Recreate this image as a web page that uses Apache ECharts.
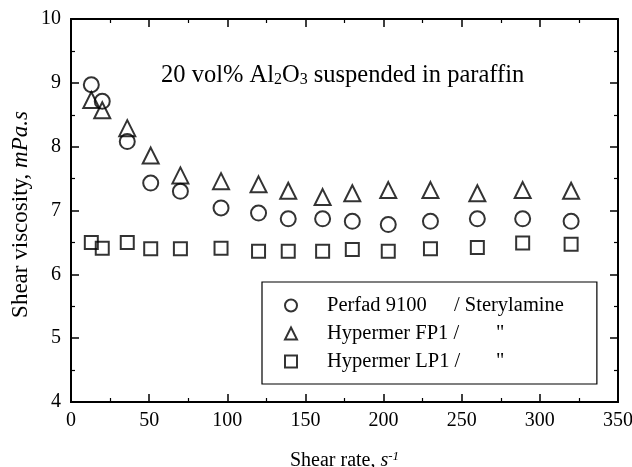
<!DOCTYPE html>
<html><head><meta charset="utf-8">
<script src="https://cdn.jsdelivr.net/npm/echarts@6/dist/echarts.min.js"></script>
<style>html,body{margin:0;padding:0;background:#fff}#c{width:632px;height:467px}</style>
</head><body><div id="c"></div>
<script>
const shearRate = [13, 20, 36, 51, 70, 96, 120, 139, 161, 180, 203, 230, 260, 289, 320];
const perfad = [8.97, 8.71, 8.08, 7.43, 7.30, 7.04, 6.96, 6.87, 6.87, 6.83, 6.78, 6.83, 6.87, 6.87, 6.83];
const hypermerFP1 = [8.73, 8.57, 8.29, 7.86, 7.55, 7.46, 7.41, 7.31, 7.21, 7.27, 7.32, 7.32, 7.27, 7.32, 7.31];
const hypermerLP1 = [6.50, 6.41, 6.50, 6.40, 6.40, 6.41, 6.36, 6.36, 6.36, 6.39, 6.36, 6.40, 6.42, 6.49, 6.47];
const seriesNames = ['Perfad 9100', 'Hypermer FP1', 'Hypermer LP1'];
const xTicks = [0, 350, 50];
const yTicks = [4, 10, 1];

const FONT = '"Liberation Serif", "Times New Roman", serif';
const chart = echarts.init(document.getElementById('c'));
const pair = (xs, ys) => xs.map((x, i) => [x, ys[i]]);
const mk = (name, data, symbol, size) => ({
  name, type: 'scatter', data, symbol, symbolSize: size,
  itemStyle: { color: 'rgba(0,0,0,0)', borderColor: '#000', borderWidth: 2 },
  emphasis: { disabled: true }, xAxisIndex: 0, yAxisIndex: 0
});
const LF = 20.5;
const legendRich = {
  a: { fontFamily: FONT, fontSize: LF, color: '#000', width: 127, lineHeight: 20 },
  d: { fontFamily: FONT, fontSize: LF, color: '#000', width: 169, lineHeight: 20 },
  c: { fontFamily: FONT, fontSize: LF, color: '#000', lineHeight: 20 }
};
const baseAxis = (min, max, interval, ticks) => ({
  type: 'value', min, max, interval,
  axisLine: { show: true, onZero: false, lineStyle: { color: '#000', width: 2 } },
  axisTick: { show: ticks, inside: true, length: 8, lineStyle: { color: '#000', width: 1.5 } },
  minorTick: { show: ticks, splitNumber: 2, length: 4, lineStyle: { color: '#000', width: 1.2 } },
  splitLine: { show: false },
  axisLabel: { show: false }
});
chart.setOption({
  animation: false,
  backgroundColor: '#fff',
  title: {
    text: '20 vol% Al{sub|2}O{sub|3} suspended in paraffin',
    left: 156, top: 58,
    textStyle: {
      fontFamily: FONT, fontSize: 24.5, fontWeight: 'normal', color: '#000',
      rich: { sub: { fontFamily: FONT, fontSize: 16, color: '#000', verticalAlign: 'bottom', padding: [9, 0, 0, 0] } }
    }
  },
  legend: {
    orient: 'vertical', left: 262, top: 282,
    padding: [13, 33, 12, 22], itemGap: 7,
    borderColor: '#000', borderWidth: 1.2,
    itemWidth: 12, itemHeight: 12,
    data: seriesNames,
    formatter: n => n === seriesNames[0]
      ? '{a|' + n + '}{c|/ Sterylamine}'
      : '{d|' + n + ' /}{c|"}',
    textStyle: { fontFamily: FONT, fontSize: LF, color: '#000', padding: [0, 0, 0, 25], rich: legendRich }
  },
  grid: { left: 71, right: 14, top: 19, bottom: 65, containLabel: false, outerBoundsMode: 'none' },
  xAxis: [
    Object.assign(baseAxis(xTicks[0], xTicks[1], xTicks[2], false), {
      position: 'bottom',
      axisLabel: { show: true, color: '#000', fontFamily: FONT, fontSize: 20, margin: 9 },
      name: 'Shear rate, {i|s}{sup|-1}', nameLocation: 'middle', nameGap: 48, nameMoveOverlap: false,
      nameTextStyle: { fontFamily: FONT, fontSize: 20, color: '#000',
        rich: { i: { fontFamily: FONT, fontSize: 20, fontStyle: 'italic', color: '#000' },
                sup: { fontFamily: FONT, fontSize: 13, fontStyle: 'italic', color: '#000', verticalAlign: 'top', padding: [0, 0, 8, 0] } } }
    }),
    Object.assign(baseAxis(xTicks[0], xTicks[1], xTicks[2], true), { position: 'top' }),
    Object.assign(baseAxis(xTicks[0], xTicks[1], xTicks[2], true), { position: 'bottom' })
  ],
  yAxis: [
    Object.assign(baseAxis(yTicks[0], yTicks[1], yTicks[2], false), {
      position: 'left',
      axisLabel: { show: true, color: '#000', fontFamily: FONT, fontSize: 20, margin: 10 },
      name: 'Shear viscosity, {i|mPa.s}', nameLocation: 'middle', nameGap: 39, nameMoveOverlap: false,
      nameTextStyle: { fontFamily: FONT, fontSize: 23, color: '#000', padding: [0, 8, 0, 0],
        rich: { i: { fontFamily: FONT, fontSize: 23, fontStyle: 'italic', color: '#000' } } }
    }),
    Object.assign(baseAxis(yTicks[0], yTicks[1], yTicks[2], true), { position: 'right' }),
    Object.assign(baseAxis(yTicks[0], yTicks[1], yTicks[2], true), { position: 'left' })
  ],
  series: [
    mk(seriesNames[0], pair(shearRate, perfad), 'circle', 15),
    mk(seriesNames[1], pair(shearRate, hypermerFP1), 'triangle', 16),
    mk(seriesNames[2], pair(shearRate, hypermerLP1), 'rect', 13)
  ]
});
</script></body></html>
